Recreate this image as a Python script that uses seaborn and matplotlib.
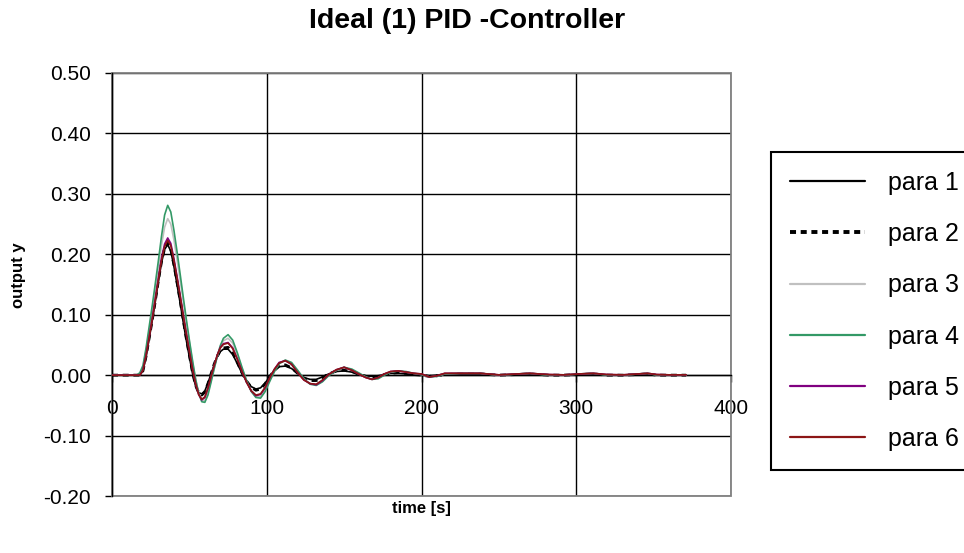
import matplotlib
matplotlib.use("Agg")
import matplotlib.pyplot as plt
from matplotlib.patches import Rectangle
import seaborn as sns
import pandas as pd

# ---------------- data ----------------
time_s = [0, 16, 18, 20, 22, 24, 26, 28, 30, 32, 34, 36, 38, 40, 42, 44, 46, 48, 50, 52,
          54, 56, 58, 60, 62, 64, 66, 68, 70, 72,
          75, 78, 81, 84, 87, 90, 93, 96, 99, 102, 105, 108,
          112, 116, 120, 124, 128, 132, 136, 140,
          145, 150, 155, 160, 164, 168, 172, 176, 180, 185, 190, 195, 200,
          205, 210, 215, 225, 238, 250, 262, 270, 282, 292, 302, 311, 320, 330, 340,
          346, 352, 360, 371]

para_1 = [0, 0, 0, 0.007, 0.030, 0.060, 0.090, 0.122, 0.155, 0.186, 0.208, 0.216, 0.205, 0.180,
          0.150, 0.120, 0.088, 0.058, 0.030, 0.003, -0.018, -0.029, -0.031, -0.026, -0.013,
          0.002, 0.017, 0.030, 0.039, 0.043,
          0.043, 0.034, 0.019, 0.003, -0.010, -0.019, -0.023, -0.021, -0.013, -0.002, 0.008, 0.014,
          0.015, 0.011, 0.003, -0.004, -0.007, -0.007, -0.003, 0.002,
          0.006, 0.007, 0.005, 0.001, -0.001, -0.002, -0.001, 0.001, 0.003, 0.003, 0.002, 0.001, 0.000,
          -0.001, 0.000, 0.001, 0.001, 0.001, 0.000, 0.001, 0.001, 0.000, 0.000, 0.001, 0.001, 0.000,
          0.000, 0.001, 0.001, 0.000, 0.000, 0.000]

para_2 = [0, 0, 0, 0.007, 0.031, 0.061, 0.091, 0.123, 0.157, 0.188, 0.210, 0.219, 0.208, 0.183,
          0.154, 0.124, 0.092, 0.061, 0.033, 0.005, -0.017, -0.029, -0.033, -0.028, -0.014,
          0.002, 0.018, 0.031, 0.041, 0.045,
          0.046, 0.037, 0.021, 0.004, -0.010, -0.020, -0.025, -0.023, -0.014, -0.002, 0.008, 0.015,
          0.017, 0.012, 0.003, -0.005, -0.009, -0.009, -0.004, 0.002,
          0.007, 0.008, 0.006, 0.001, -0.002, -0.003, -0.002, 0.001, 0.003, 0.004, 0.003, 0.001, 0.000,
          -0.002, -0.001, 0.001, 0.002, 0.002, 0.000, 0.001, 0.002, 0.000, 0.000, 0.001, 0.002, 0.000,
          0.000, 0.001, 0.002, 0.000, 0.000, 0.000]

para_3 = [0, 0, 0.002, 0.012, 0.040, 0.073, 0.106, 0.142, 0.178, 0.215, 0.245, 0.259, 0.250, 0.224,
          0.192, 0.158, 0.123, 0.088, 0.055, 0.022, -0.007, -0.030, -0.042, -0.042, -0.029,
          -0.009, 0.012, 0.031, 0.047, 0.057,
          0.061, 0.053, 0.034, 0.011, -0.010, -0.027, -0.036, -0.036, -0.025, -0.008, 0.007, 0.019,
          0.024, 0.020, 0.007, -0.006, -0.014, -0.016, -0.010, 0.000,
          0.008, 0.013, 0.009, 0.002, -0.003, -0.007, -0.005, 0.001, 0.005, 0.007, 0.005, 0.003, 0.001,
          -0.003, -0.002, 0.002, 0.003, 0.003, 0.000, 0.002, 0.003, 0.0005, 0.000, 0.002, 0.003, 0.0005,
          0.000, 0.002, 0.003, 0.0005, 0.000, 0.000]

para_4 = [0, 0, 0.004, 0.016, 0.045, 0.080, 0.115, 0.152, 0.190, 0.230, 0.265, 0.281, 0.270, 0.240,
          0.205, 0.168, 0.130, 0.093, 0.058, 0.025, -0.006, -0.030, -0.044, -0.045, -0.033,
          -0.012, 0.010, 0.031, 0.049, 0.061,
          0.067, 0.058, 0.037, 0.013, -0.009, -0.027, -0.037, -0.038, -0.027, -0.010, 0.006, 0.019,
          0.025, 0.021, 0.008, -0.006, -0.015, -0.017, -0.011, -0.001,
          0.008, 0.013, 0.010, 0.003, -0.003, -0.007, -0.006, 0.000, 0.005, 0.007, 0.006, 0.003, 0.001,
          -0.003, -0.002, 0.002, 0.003, 0.003, 0.000, 0.002, 0.003, 0.000, 0.000, 0.002, 0.003, 0.000,
          0.000, 0.002, 0.003, 0.000, 0.000, 0.000]

para_5 = [0, 0, 0, 0.009, 0.033, 0.063, 0.094, 0.127, 0.161, 0.194, 0.217, 0.227, 0.218, 0.193,
          0.164, 0.133, 0.101, 0.070, 0.040, 0.011, -0.014, -0.032, -0.041, -0.037, -0.022,
          -0.002, 0.016, 0.033, 0.046, 0.052,
          0.054, 0.045, 0.027, 0.006, -0.012, -0.026, -0.034, -0.032, -0.021, -0.004, 0.010, 0.021,
          0.024, 0.018, 0.004, -0.008, -0.014, -0.016, -0.009, 0.001,
          0.009, 0.013, 0.008, 0.001, -0.004, -0.007, -0.004, 0.002, 0.006, 0.007, 0.005, 0.003, 0.002,
          -0.003, -0.001, 0.003, 0.003, 0.003, 0.0005, 0.002, 0.003, 0.001, 0.0005, 0.002, 0.003, 0.001,
          0.0005, 0.002, 0.003, 0.001, 0.0005, 0.0005]

para_6 = [0, 0, 0, 0.008, 0.032, 0.062, 0.092, 0.125, 0.158, 0.190, 0.213, 0.223, 0.214, 0.190,
          0.161, 0.131, 0.099, 0.068, 0.039, 0.010, -0.014, -0.032, -0.040, -0.036, -0.021,
          -0.002, 0.016, 0.033, 0.045, 0.051,
          0.053, 0.044, 0.026, 0.006, -0.012, -0.026, -0.033, -0.031, -0.020, -0.004, 0.010, 0.020,
          0.024, 0.018, 0.004, -0.008, -0.014, -0.015, -0.008, 0.001,
          0.009, 0.013, 0.008, 0.001, -0.004, -0.007, -0.004, 0.002, 0.006, 0.007, 0.005, 0.003, 0.002,
          -0.003, -0.001, 0.003, 0.003, 0.003, 0.0005, 0.002, 0.003, 0.001, 0.0005, 0.002, 0.003, 0.001,
          0.0005, 0.002, 0.003, 0.001, 0.0005, 0.0005]

series_names = ["para 1", "para 2", "para 3", "para 4", "para 5", "para 6"]
series_values = [para_1, para_2, para_3, para_4, para_5, para_6]

y_ticks = [-0.2, -0.1, 0.0, 0.1, 0.2, 0.3, 0.4, 0.5]
x_ticks = [0, 100, 200, 300, 400]

title_text = "Ideal (1) PID -Controller"
x_label = "time [s]"
y_label = "output y"

# ---------------- styling ----------------
colors = ["#000000", "#000000", "#C0C0C0", "#339966", "#800080", "#8C1515"]
widths = [1.2, 2.0, 1.2, 1.2, 1.2, 1.2]
styles = ["-", (0, (2.15, 1.7)), "-", "-", "-", "-"]

sns.set_theme(style="white")
plt.rcParams["font.family"] = ["Liberation Sans", "DejaVu Sans"]
plt.rcParams["text.color"] = "black"
plt.rcParams["axes.labelcolor"] = "black"
plt.rcParams["xtick.color"] = "black"
plt.rcParams["ytick.color"] = "black"

df = pd.DataFrame({"time": time_s})
for name, vals in zip(series_names, series_values):
    df[name] = vals

fig = plt.figure(figsize=(9.64, 5.53), dpi=100)
fig.patch.set_facecolor("white")
ax = fig.add_axes([112 / 964, 1 - 496 / 553, 619 / 964, 423 / 553])
ax.set_facecolor("white")

for i, name in enumerate(series_names):
    sns.lineplot(data=df, x="time", y=name, ax=ax, color=colors[i], linewidth=widths[i],
                 linestyle=styles[i], label=name, legend=False, zorder=3 + i)

ax.set_xlim(0, 400)
ax.set_ylim(-0.2, 0.5)
ax.set_xticks(x_ticks)
ax.set_xticklabels([str(v) for v in x_ticks])
ax.set_yticks(y_ticks)
ax.set_yticklabels([f"{v:.2f}" for v in y_ticks])

ax.grid(True, color="black", linewidth=1.0, zorder=1)
ax.set_axisbelow(True)

for side in ["top", "right"]:
    ax.spines[side].set_visible(False)
ax.spines["bottom"].set_position(("data", 0))
ax.spines["bottom"].set_color("black")
ax.spines["bottom"].set_linewidth(1.0)
ax.spines["left"].set_color("black")
ax.spines["left"].set_linewidth(1.0)

frame = Rectangle((0, 0), 1, 1, transform=ax.transAxes, fill=False,
                  edgecolor="#808080", linewidth=1.3, zorder=2, clip_on=False)
ax.add_patch(frame)

ax.tick_params(axis="x", direction="out", length=5, width=1, pad=12,
               labelsize=15, colors="black", bottom=True)
ax.tick_params(axis="y", direction="out", length=5, width=1, pad=10,
               labelsize=15, colors="black", left=True)

ax.set_xlabel("")
ax.set_ylabel("")
fig.text(421 / 964, 1 - 508 / 553, x_label, ha="center", va="center",
         fontsize=12, fontweight="bold", color="black")
fig.text(18 / 964, 1 - 275 / 553, y_label, ha="center", va="center",
         rotation=90, fontsize=12, fontweight="bold", color="black")
fig.text(467 / 964, 1 - 21 / 553, title_text, ha="center", va="center",
         fontsize=20.5, fontweight="bold", color="black")

handles, labels = ax.get_legend_handles_labels()
leg = fig.legend(handles, labels, loc="upper left",
                 bbox_to_anchor=(771 / 964, 1 - 152 / 553),
                 bbox_transform=fig.transFigure, borderaxespad=0,
                 fontsize=18, handlelength=3.0, handletextpad=0.92,
                 labelspacing=1.09, borderpad=0.75,
                 frameon=True, fancybox=False, shadow=False, framealpha=1.0,
                 labelcolor="black")
leg.get_frame().set_edgecolor("black")
leg.get_frame().set_linewidth(1.5)
leg_lines = leg.get_lines()
for i, line in enumerate(leg_lines):
    if i == 1:
        line.set_linewidth(2.8)
        line.set_dashes((1.55, 1.2))
    else:
        line.set_linewidth(1.6)

fig.savefig("out.png", dpi=100)
